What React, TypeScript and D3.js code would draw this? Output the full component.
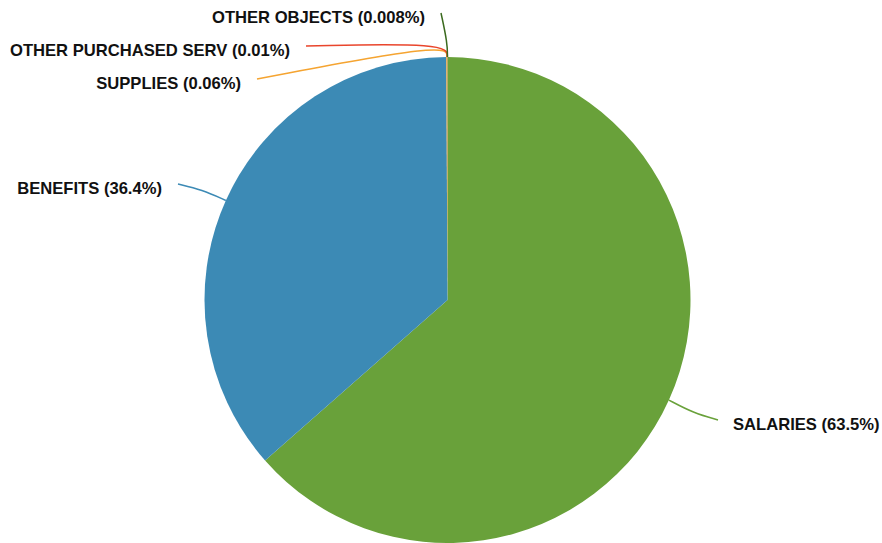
import React from "react";
import * as d3 from "d3";

const categories = ["SALARIES", "BENEFITS", "SUPPLIES", "OTHER PURCHASED SERV", "OTHER OBJECTS"];
const percents = [63.5, 36.4, 0.06, 0.01, 0.008];
const valueLabels = ["63.5%", "36.4%", "0.06%", "0.01%", "0.008%"];
const colors = ["#69a13a", "#3c8ab5", "#f5a431", "#e9452c", "#3b6a1f"];

// layout: end points of the leader lines after label collision handling
const labelPlacement: [number, number][] = [
  [718, 420],
  [178, 184],
  [257, 79],
  [306, 46],
  [441, 13],
];

const W = 882;
const H = 543;
const cx = 447.5;
const cy = 300;
const R = 243;

export default function App() {
  const pie = d3.pie<number>().sort(null).value((d) => d);
  const arcs = pie(percents);
  const arcGen = d3.arc<d3.PieArcDatum<number>>().innerRadius(0).outerRadius(R);
  const lineGen = d3.line().curve(d3.curveBasis);

  const polar = (a: number, r: number): [number, number] => [cx + r * Math.sin(a), cy - r * Math.cos(a)];

  return (
    <div style={{ position: "absolute", left: 0, top: 0 }}>
      <svg width={W} height={H} style={{ display: "block" }}>
        <g transform={`translate(${cx},${cy})`}>
          {arcs.map((a, i) => (
            <path key={i} d={arcGen(a) || ""} fill={colors[i]} />
          ))}
        </g>
        {arcs.map((a, i) => {
          const mid = (a.startAngle + a.endAngle) / 2;
          const start = polar(mid, R);
          const end = labelPlacement[i];
          const small = a.endAngle - a.startAngle < 0.05;
          const midPt: [number, number] = small
            ? polar(mid, R + 14)
            : [start[0] + (end[0] - start[0]) * 0.5, start[1] + (end[1] - start[1]) * 0.65];
          const left = end[0] < cx;
          return (
            <g key={i}>
              <path d={lineGen([start, midPt, end]) || ""} fill="none" stroke={colors[i]} strokeWidth={1.5} />
              <text
                x={left ? end[0] - 16 : end[0] + 15}
                y={end[1] + 9.5}
                textAnchor={left ? "end" : "start"}
                fontFamily="'Liberation Sans', Arial, Helvetica, sans-serif"
                fontWeight="bold"
                fontSize={16.6}
                fill="#111"
              >
                {`${categories[i]} (${valueLabels[i]})`}
              </text>
            </g>
          );
        })}
      </svg>
    </div>
  );
}
